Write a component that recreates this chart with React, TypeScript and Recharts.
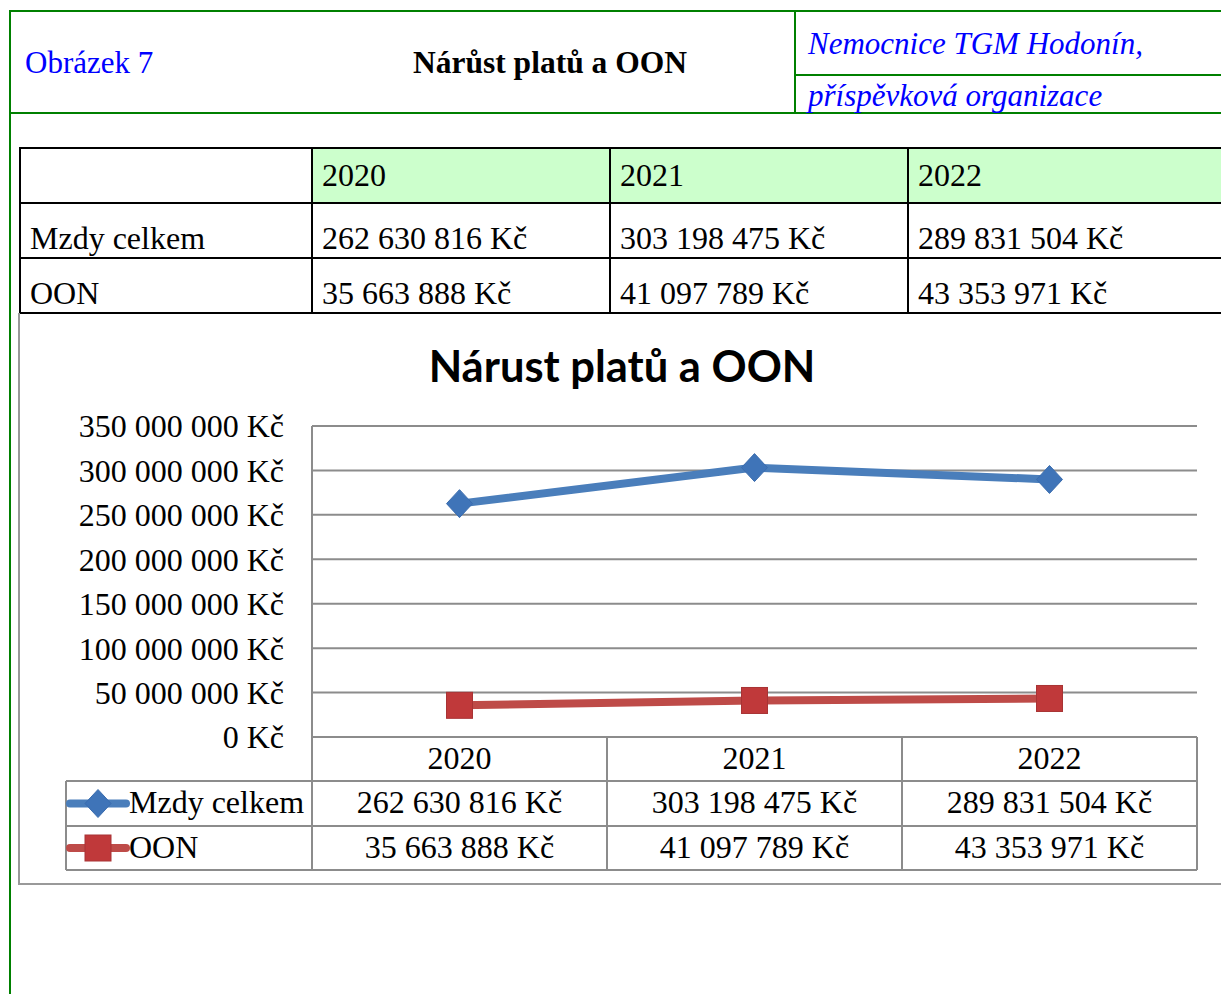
import React from 'react'
import { LineChart, Line, XAxis, YAxis, CartesianGrid } from 'recharts'

// categories and series values
const years = ['2020', '2021', '2022']
const mzdyCelkem = [262630816, 303198475, 289831504]
const oon = [35663888, 41097789, 43353971]
const yTicks = [0, 50000000, 100000000, 150000000, 200000000, 250000000, 300000000, 350000000]

const data = years.map((y, i) => ({ year: y, mzdy: mzdyCelkem[i], oon: oon[i] }))

const BLUE = '#4a7ebb'
const RED = '#be4b48'
const GRID = '#8c8c8c'
const GREEN = '#008000'
const SERIF = '"Liberation Serif", "Times New Roman", serif'

const CHART_W = 1210
const CHART_H = 570
const PLOT_LEFT = 293
const PLOT_RIGHT_MARGIN = 32
const CELL_W = (CHART_W - PLOT_LEFT - PLOT_RIGHT_MARGIN) / years.length

const fmt = (v: number) =>
    String(Math.round(v)).replace(/\B(?=(\d{3})+(?!\d))/g, ' ') + ' Kč'

const Diamond = (props: any) => {
    const { cx, cy, index } = props
    if (cx == null || cy == null) return <g key={`d-${index}`} />
    return (
        <path
            key={`d-${index}`}
            d={`M${cx},${cy - 14} L${cx + 13},${cy} L${cx},${cy + 14} L${cx - 13},${cy} Z`}
            fill="#3f74b8"
            stroke="#3a6cae"
            strokeWidth={1}
        />
    )
}

const Square = (props: any) => {
    const { cx, cy, index } = props
    if (cx == null || cy == null) return <g key={`s-${index}`} />
    return (
        <rect
            key={`s-${index}`}
            x={cx - 13}
            y={cy - 13}
            width={26}
            height={26}
            fill="#c0393a"
            stroke="#a83334"
            strokeWidth={1}
        />
    )
}

// x axis tick draws the chart's data table column (and legend column for first)
const TableTick = (props: any) => {
    const { x, y, payload, index } = props
    const i = years.indexOf(payload.value)
    const left = x - CELL_W / 2
    const right = x + CELL_W / 2
    const r1 = y + 44
    const r2 = y + 89
    const r3 = y + 133
    const ts = { fontFamily: SERIF, fontSize: 32, fill: '#000' }
    const dy = '0.3em'
    return (
        <g>
            <line x1={left} y1={y} x2={left} y2={r3} stroke={GRID} strokeWidth={2} />
            {index === years.length - 1 && (
                <line x1={right} y1={y} x2={right} y2={r3} stroke={GRID} strokeWidth={2} />
            )}
            <line x1={index === 0 ? left - 246 : left} y1={r1} x2={right} y2={r1} stroke={GRID} strokeWidth={2} />
            <line x1={index === 0 ? left - 246 : left} y1={r2} x2={right} y2={r2} stroke={GRID} strokeWidth={2} />
            <line x1={index === 0 ? left - 246 : left} y1={r3} x2={right} y2={r3} stroke={GRID} strokeWidth={2} />
            <text x={x} y={y + 22} dy={dy} textAnchor="middle" {...ts}>{payload.value}</text>
            <text x={x} y={(r1 + r2) / 2} dy={dy} textAnchor="middle" {...ts}>{fmt(mzdyCelkem[i])}</text>
            <text x={x} y={(r2 + r3) / 2} dy={dy} textAnchor="middle" {...ts}>{fmt(oon[i])}</text>
            {index === 0 && (
                <g>
                    <line x1={left - 246} y1={r1} x2={left - 246} y2={r3} stroke={GRID} strokeWidth={2} />
                    <line x1={left - 242} y1={(r1 + r2) / 2} x2={left - 186} y2={(r1 + r2) / 2} stroke={BLUE} strokeWidth={8} strokeLinecap="round" />
                    <Diamond cx={left - 214} cy={(r1 + r2) / 2} index={99} />
                    <text x={left - 183} y={(r1 + r2) / 2} dy={dy} textAnchor="start" {...ts}>Mzdy celkem</text>
                    <line x1={left - 242} y1={(r2 + r3) / 2} x2={left - 186} y2={(r2 + r3) / 2} stroke={RED} strokeWidth={8} strokeLinecap="round" />
                    <Square cx={left - 214} cy={(r2 + r3) / 2} index={98} />
                    <text x={left - 183} y={(r2 + r3) / 2} dy={dy} textAnchor="start" {...ts}>OON</text>
                </g>
            )}
        </g>
    )
}

const hLine = (left: number, top: number, width: number, color: string, key: string) => (
    <div key={key} style={{ position: 'absolute', left, top, width, height: 2, background: color }} />
)
const vLine = (left: number, top: number, height: number, color: string, key: string) => (
    <div key={key} style={{ position: 'absolute', left, top, width: 2, height, background: color }} />
)

const App: React.FC = () => {
    const tableCols = [20, 312, 610, 908]
    return (
        <div
            style={{
                position: 'fixed',
                left: 0,
                top: 0,
                width: 1221,
                height: 994,
                overflow: 'hidden',
                background: '#fff',
                fontFamily: SERIF,
            }}
        >
            {/* header frame */}
            {hLine(9, 10, 1300, GREEN, 'h1')}
            {vLine(9, 10, 1000, GREEN, 'v1')}
            {hLine(9, 112, 1300, GREEN, 'h2')}
            {vLine(794, 10, 104, GREEN, 'v2')}
            {hLine(794, 74, 500, GREEN, 'h3')}
            <div style={{ position: 'absolute', left: 25, top: 47, fontSize: 31, lineHeight: '31px', color: '#0000ff', whiteSpace: 'nowrap' }}>
                Obrázek 7
            </div>
            <div style={{ position: 'absolute', left: 413, top: 47, fontSize: 31.5, lineHeight: '31px', fontWeight: 'bold', whiteSpace: 'nowrap' }}>
                Nárůst platů a OON
            </div>
            <div style={{ position: 'absolute', left: 808, top: 28, fontSize: 31, lineHeight: '31px', fontStyle: 'italic', color: '#0000ff', whiteSpace: 'nowrap' }}>
                Nemocnice TGM Hodonín,
            </div>
            <div style={{ position: 'absolute', left: 808, top: 80, fontSize: 31, lineHeight: '31px', fontStyle: 'italic', color: '#0000ff', whiteSpace: 'nowrap' }}>
                příspěvková organizace
            </div>

            {/* source data table */}
            <div style={{ position: 'absolute', left: 313, top: 149, width: 920, height: 53, background: '#ccffcc' }} />
            {hLine(20, 147, 1300, '#000', 't1')}
            {hLine(20, 202, 1300, '#000', 't2')}
            {hLine(20, 257, 1300, '#000', 't3')}
            {hLine(20, 312, 1300, '#000', 't4')}
            {tableCols.map((c, i) => vLine(c - 1, 147, 166, '#000', `tc${i}`))}
            {years.map((y, i) => (
                <div key={`hy${i}`} style={{ position: 'absolute', left: tableCols[i + 1] + 10, top: 159, fontSize: 32, lineHeight: '32px', whiteSpace: 'nowrap' }}>
                    {y}
                </div>
            ))}
            <div style={{ position: 'absolute', left: 30, top: 222, fontSize: 32, lineHeight: '32px', whiteSpace: 'nowrap' }}>Mzdy celkem</div>
            <div style={{ position: 'absolute', left: 30, top: 277, fontSize: 32, lineHeight: '32px', whiteSpace: 'nowrap' }}>OON</div>
            {mzdyCelkem.map((v, i) => (
                <div key={`tm${i}`} style={{ position: 'absolute', left: tableCols[i + 1] + 10, top: 222, fontSize: 32, lineHeight: '32px', whiteSpace: 'nowrap' }}>
                    {fmt(v)}
                </div>
            ))}
            {oon.map((v, i) => (
                <div key={`to${i}`} style={{ position: 'absolute', left: tableCols[i + 1] + 10, top: 277, fontSize: 32, lineHeight: '32px', whiteSpace: 'nowrap' }}>
                    {fmt(v)}
                </div>
            ))}

            {/* chart frame */}
            <div style={{ position: 'absolute', left: 18, top: 313, width: 1300, height: 570, borderLeft: '2px solid #999', borderBottom: '2px solid #999' }} />
            <div
                style={{
                    position: 'absolute',
                    left: 300,
                    top: 340,
                    width: 644,
                    textAlign: 'center',
                    fontFamily: 'Lato, "Open Sans", sans-serif',
                    fontWeight: 'bold',
                    fontSize: 43.5,
                    lineHeight: '50px',
                    whiteSpace: 'nowrap',
                }}
            >
                Nárust platů a OON
            </div>
            <div style={{ position: 'absolute', left: 19, top: 313 }}>
                <LineChart
                    width={CHART_W}
                    height={CHART_H}
                    data={data}
                    margin={{ top: 113, right: PLOT_RIGHT_MARGIN, left: 0, bottom: 0 }}
                >
                    <CartesianGrid vertical={false} stroke={GRID} strokeWidth={2} />
                    <XAxis
                        dataKey="year"
                        scale="band"
                        height={146}
                        axisLine={false}
                        tickLine={false}
                        tickSize={0}
                        tickMargin={0}
                        interval={0}
                        tick={<TableTick />}
                    />
                    <YAxis
                        width={PLOT_LEFT}
                        domain={[0, 350000000]}
                        ticks={yTicks}
                        interval={0}
                        tickFormatter={fmt}
                        axisLine={{ stroke: GRID, strokeWidth: 2 }}
                        tickLine={false}
                        tickSize={0}
                        tickMargin={28}
                        tick={{ fontFamily: SERIF, fontSize: 32, fill: '#000' }}
                    />
                    <Line
                        dataKey="mzdy"
                        stroke={BLUE}
                        strokeWidth={8}
                        dot={(p: any) => <Diamond key={`dm-${p.index}`} {...p} />}
                        activeDot={false}
                        isAnimationActive={false}
                    />
                    <Line
                        dataKey="oon"
                        stroke={RED}
                        strokeWidth={8}
                        dot={(p: any) => <Square key={`sq-${p.index}`} {...p} />}
                        activeDot={false}
                        isAnimationActive={false}
                    />
                </LineChart>
            </div>
        </div>
    )
}

export default App
